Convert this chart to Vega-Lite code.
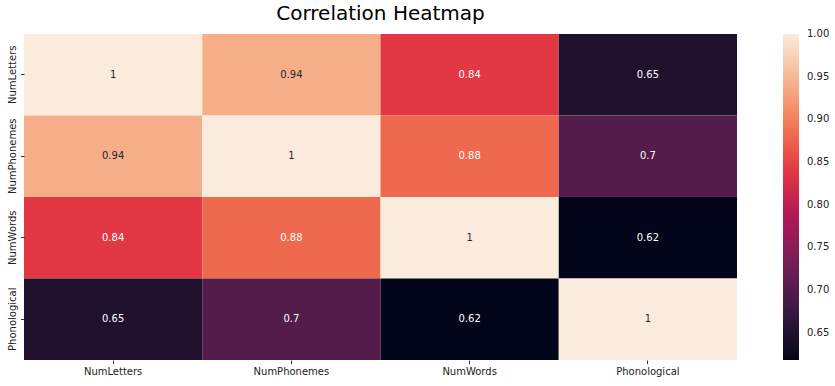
{
  "$schema": "https://vega.github.io/schema/vega-lite/v6.json",
  "width": 713,
  "height": 326,
  "autosize": "none",
  "padding": {"left": 24, "top": 34, "right": 98, "bottom": 26},
  "background": "white",
  "title": {
    "text": "Correlation Heatmap",
    "font": "DejaVu Sans",
    "fontSize": 20,
    "fontWeight": "normal",
    "color": "#000000",
    "anchor": "middle",
    "offset": 10
  },
  "data": {
    "values": [
      {"x": "NumLetters", "y": "NumLetters", "value": 1.0},
      {"x": "NumPhonemes", "y": "NumLetters", "value": 0.94},
      {"x": "NumWords", "y": "NumLetters", "value": 0.84},
      {"x": "Phonological", "y": "NumLetters", "value": 0.65},
      {"x": "NumLetters", "y": "NumPhonemes", "value": 0.94},
      {"x": "NumPhonemes", "y": "NumPhonemes", "value": 1.0},
      {"x": "NumWords", "y": "NumPhonemes", "value": 0.88},
      {"x": "Phonological", "y": "NumPhonemes", "value": 0.7},
      {"x": "NumLetters", "y": "NumWords", "value": 0.84},
      {"x": "NumPhonemes", "y": "NumWords", "value": 0.88},
      {"x": "NumWords", "y": "NumWords", "value": 1.0},
      {"x": "Phonological", "y": "NumWords", "value": 0.618},
      {"x": "NumLetters", "y": "Phonological", "value": 0.65},
      {"x": "NumPhonemes", "y": "Phonological", "value": 0.7},
      {"x": "NumWords", "y": "Phonological", "value": 0.618},
      {"x": "Phonological", "y": "Phonological", "value": 1.0}
    ]
  },
  "encoding": {
    "x": {
      "field": "x",
      "type": "nominal",
      "sort": ["NumLetters", "NumPhonemes", "NumWords", "Phonological"],
      "scale": {"paddingInner": 0, "paddingOuter": 0},
      "axis": {
        "title": null,
        "labelAngle": 0,
        "domain": false,
        "tickSize": 3.5,
        "tickWidth": 0.8,
        "tickColor": "#000000",
        "labelFont": "DejaVu Sans",
        "labelFontSize": 10,
        "labelColor": "#222222",
        "labelPadding": 3
      }
    },
    "y": {
      "field": "y",
      "type": "nominal",
      "sort": ["NumLetters", "NumPhonemes", "NumWords", "Phonological"],
      "scale": {"paddingInner": 0, "paddingOuter": 0},
      "axis": {
        "title": null,
        "labelAngle": -90,
        "labelAlign": "center",
        "labelBaseline": "bottom",
        "domain": false,
        "tickSize": 3.5,
        "tickWidth": 0.8,
        "tickColor": "#000000",
        "labelFont": "DejaVu Sans",
        "labelFontSize": 10,
        "labelColor": "#222222",
        "labelPadding": 3
      }
    }
  },
  "layer": [
    {
      "mark": {"type": "rect"},
      "encoding": {
        "color": {
          "field": "value",
          "type": "quantitative",
          "scale": {
            "type": "linear",
            "domain": [0.618, 1.0],
            "range": ["#03051a", "#35193e", "#701f57", "#ad1759", "#e13342", "#f37651", "#f6b48f", "#faebdd"],
            "interpolate": "rgb"
          },
          "legend": {
            "title": null,
            "orient": "right",
            "direction": "vertical",
            "offset": 46,
            "padding": 0,
            "gradientLength": 326,
            "gradientThickness": 16,
            "gradientStrokeWidth": 0,
            "values": [0.65, 0.7, 0.75, 0.8, 0.85, 0.9, 0.95, 1.0],
            "format": ".2f",
            "labelFont": "DejaVu Sans",
            "labelFontSize": 10,
            "labelColor": "#222222",
            "labelOffset": 8,
            "labelBaseline": "middle",
            "labelOverlap": false,
            "encode": {
              "labels": {"update": {"baseline": {"value": "middle"}}}
            }
          }
        }
      }
    },
    {
      "mark": {"type": "text", "font": "DejaVu Sans", "fontSize": 10},
      "encoding": {
        "text": {"field": "value", "type": "quantitative", "format": ".2~g"},
        "color": {
          "condition": {"test": "datum.value > 0.9", "value": "#262626"},
          "value": "#ffffff"
        }
      }
    }
  ],
  "config": {
    "view": {"stroke": null}
  }
}
